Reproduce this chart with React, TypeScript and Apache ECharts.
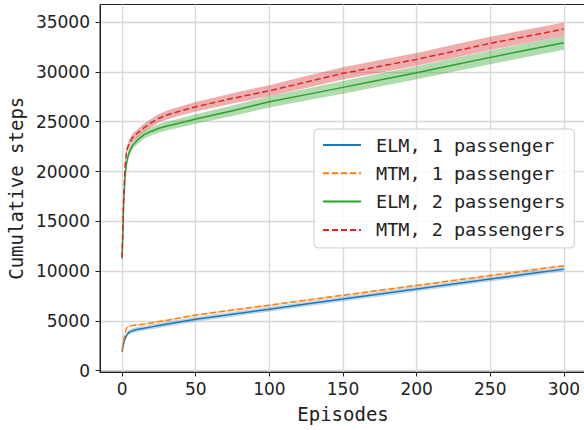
import React, { useEffect, useRef } from "react";
import * as echarts from "echarts";

const episodes = [0, 1, 2, 3, 4, 5, 7, 10, 15, 20, 25, 30, 40, 50, 75, 100, 125, 150, 175, 200, 225, 250, 275, 300];

const elm1 = [1900, 2700, 3200, 3550, 3750, 3880, 4020, 4140, 4260, 4400, 4530, 4660, 4910, 5160, 5680, 6180, 6690, 7190, 7700, 8200, 8700, 9200, 9700, 10200];
const mtm1 = [2050, 3000, 3750, 4250, 4420, 4470, 4530, 4600, 4670, 4800, 4930, 5050, 5320, 5590, 6090, 6580, 7080, 7570, 8070, 8560, 9060, 9550, 10050, 10550];
const elm2 = [11280, 16500, 19500, 20800, 21500, 22000, 22600, 23100, 23700, 24050, 24350, 24550, 24900, 25270, 26100, 27000, 27720, 28450, 29180, 29920, 30690, 31460, 32200, 32930];
const mtm2 = [11350, 17000, 20500, 22000, 22500, 22830, 23400, 23800, 24400, 24900, 25350, 25650, 26100, 26500, 27350, 28110, 28980, 29860, 30560, 31260, 32060, 32870, 33580, 34300];

const elm1Spread = [120, 180, 220, 240, 250, 250, 250, 250, 250, 250, 250, 250, 250, 250, 250, 250, 250, 250, 250, 250, 250, 250, 250, 250];
const mtm1Spread = [60, 80, 90, 90, 90, 90, 90, 90, 90, 90, 90, 90, 90, 90, 100, 100, 100, 100, 100, 100, 100, 100, 100, 100];
const elm2Spread = [150, 300, 350, 380, 380, 380, 390, 400, 400, 420, 430, 440, 450, 470, 520, 560, 600, 630, 650, 660, 680, 690, 700, 700];
const mtm2Spread = [150, 300, 350, 370, 380, 380, 390, 400, 410, 420, 430, 440, 460, 480, 520, 560, 600, 620, 640, 650, 660, 660, 670, 670];

const xTicks = [0, 50, 100, 150, 200, 250, 300];
const yTicks = [0, 5000, 10000, 15000, 20000, 25000, 30000, 35000];

const names = ["ELM, 1 passenger", "MTM, 1 passenger", "ELM, 2 passengers", "MTM, 2 passengers"];
const colors = ["#1f77b4", "#ff7f0e", "#2ca02c", "#d62728"];
const bandColors = ["rgba(31,119,180,0.28)", "rgba(255,127,14,0.3)", "rgba(44,160,44,0.38)", "rgba(214,39,40,0.38)"];
const dashed = [false, true, false, true];

const means = [elm1, mtm1, elm2, mtm2];
const spreads = [elm1Spread, mtm1Spread, elm2Spread, mtm2Spread];

const MONO = "'DejaVu Sans Mono', monospace";
const SANS = "'DejaVu Sans', sans-serif";

function bandSeries(mean: number[], sd: number[], color: string, z: number) {
  return {
    type: "custom",
    silent: true,
    z,
    data: [[0, 0]],
    renderItem: (_params: any, api: any) => {
      const upper = episodes.map((x, i) => api.coord([x, mean[i] + sd[i]]));
      const lower = episodes.map((x, i) => api.coord([x, mean[i] - sd[i]])).reverse();
      return {
        type: "polygon",
        shape: { points: upper.concat(lower) },
        style: { fill: color, stroke: "none" },
      };
    },
  };
}

export default function App() {
  const ref = useRef<HTMLDivElement>(null);
  useEffect(() => {
    if (!ref.current) return;
    const chart = echarts.init(ref.current, undefined, { renderer: "svg" });
    const series: any[] = [];
    for (let k = 0; k < 4; k++) {
      series.push(bandSeries(means[k], spreads[k], bandColors[k], 2 + k * 2));
      series.push({
        type: "line",
        name: names[k],
        z: 3 + k * 2,
        data: episodes.map((x, i) => [x, means[k][i]]),
        symbol: "none",
        showSymbol: false,
        smooth: false,
        lineStyle: { color: colors[k], width: 1.5, type: dashed[k] ? [6, 3] : "solid" },
        itemStyle: { color: colors[k] },
      });
    }
    chart.setOption({
      animation: false,
      backgroundColor: "#ffffff",
      grid: {
        left: 100,
        top: 4.5,
        width: 486,
        height: 367.5,
        show: true,
        borderColor: "#222222",
        borderWidth: 1,
        backgroundColor: "#ffffff",
        containLabel: false,
        outerBoundsMode: "none",
      },
      xAxis: {
        type: "value",
        min: -15,
        max: 315,
        splitNumber: 7,
        axisLine: { show: true, onZero: false, lineStyle: { color: "#222222", width: 1 } },
        axisTick: { show: true, length: 4.5, customValues: xTicks, lineStyle: { color: "#222222" } },
        axisLabel: { customValues: xTicks, fontFamily: SANS, fontSize: 17, color: "#222222", margin: 8, formatter: (v: number) => String(v) },
        splitLine: { show: true, lineStyle: { color: "#d8d8d8", width: 1.3 } },
        name: "Episodes",
        nameLocation: "middle",
        nameGap: 32,
        nameTextStyle: { fontFamily: MONO, fontSize: 19, color: "#222222" },
      },
      yAxis: {
        type: "value",
        min: -130,
        max: 36770,
        splitNumber: 8,
        axisLine: { show: true, onZero: false, lineStyle: { color: "#222222", width: 1 } },
        axisTick: { show: true, length: 4.5, customValues: yTicks, lineStyle: { color: "#222222" } },
        axisLabel: { customValues: yTicks, fontFamily: SANS, fontSize: 17, color: "#222222", margin: 10, formatter: (v: number) => String(v) },
        splitLine: { show: true, lineStyle: { color: "#d8d8d8", width: 1.3 } },
        name: "Cumulative steps",
        nameLocation: "middle",
        nameGap: 73,
        nameTextStyle: { fontFamily: MONO, fontSize: 19, color: "#222222" },
      },
      legend: {
        data: names,
        orient: "vertical",
        left: 314,
        top: 129,
        itemWidth: 38,
        itemHeight: 14,
        itemGap: 8.3,
        padding: [6, 9, 8, 8],
        backgroundColor: "rgba(255,255,255,0.85)",
        borderColor: "#cccccc",
        borderWidth: 1,
        borderRadius: 4,
        selectedMode: false,
        itemStyle: { opacity: 0 },
        textStyle: { fontFamily: MONO, fontSize: 18.5, color: "#222222", lineHeight: 20, padding: [0, 0, 0, 10] },
      },
      series,
    });
    return () => chart.dispose();
  }, []);
  return (
    <div style={{ position: "absolute", left: 0, top: 0, width: 584, height: 430, overflow: "hidden", background: "#fff" }}>
      <div ref={ref} style={{ width: 584, height: 430 }} />
    </div>
  );
}
